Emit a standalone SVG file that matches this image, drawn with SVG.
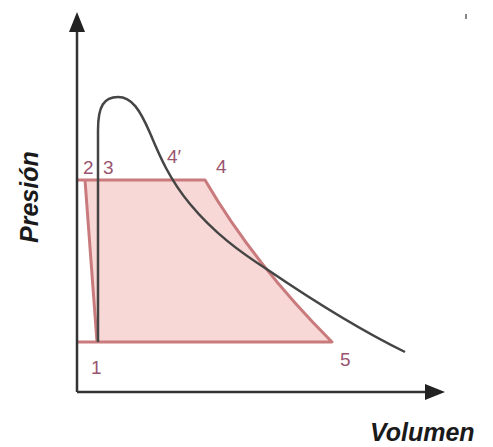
<svg xmlns="http://www.w3.org/2000/svg" width="493" height="447" viewBox="0 0 493 447">
<style>
.axis{stroke:#333;stroke-width:2.5;fill:none}
.cyc{stroke:#c97a7c;stroke-width:3;fill:none;stroke-linejoin:round}
.curve{stroke:#454545;stroke-width:2.5;fill:none}
.lbl{font-family:"Liberation Sans",Arial,sans-serif;font-size:19px;fill:#9a5470}
.ax{font-family:"Liberation Sans",Arial,sans-serif;font-size:25px;font-weight:bold;font-style:italic;fill:#1a1a1a}
</style>
<rect width="493" height="447" fill="#fff"/>
<g id="cycle">
<path d="M85,180 L205,180 Q254,264 332,342 L97,342 Z" fill="#f8d8d6" stroke="none"/>
<path class="cyc" d="M77,180 L205,180 Q254,264 332,342 L77,342"/>
<path class="cyc" d="M85,180 L97,342"/>
</g>
<g id="connectors">
<path class="curve" d="M98,342 L98,130 C98,106 104,97 118,97 C132,97 140,110 150,133 C160,157 170,180 190,204 C214,233 240,252 268,270 C318,304 360,330 405,352"/>
<path class="axis" d="M77,392 L77,30 M77,392 L428,392"/>
<polygon points="77,12 69,32 85,32" fill="#222"/>
<polygon points="445,392 425,384 425,400" fill="#222"/>
</g>
<g id="labels">
<text class="lbl" x="83" y="174">2</text>
<text class="lbl" x="103" y="174">3</text>
<text class="lbl" x="167" y="163">4′</text>
<text class="lbl" x="216" y="173">4</text>
<text class="lbl" x="91" y="374">1</text>
<text class="lbl" x="340" y="366">5</text>
<text class="ax" x="370" y="441">Volumen</text>
<text class="ax" transform="translate(38,243) rotate(-90)">Presión</text>
</g>
<rect x="465" y="14" width="2" height="5" fill="#888"/>
</svg>
